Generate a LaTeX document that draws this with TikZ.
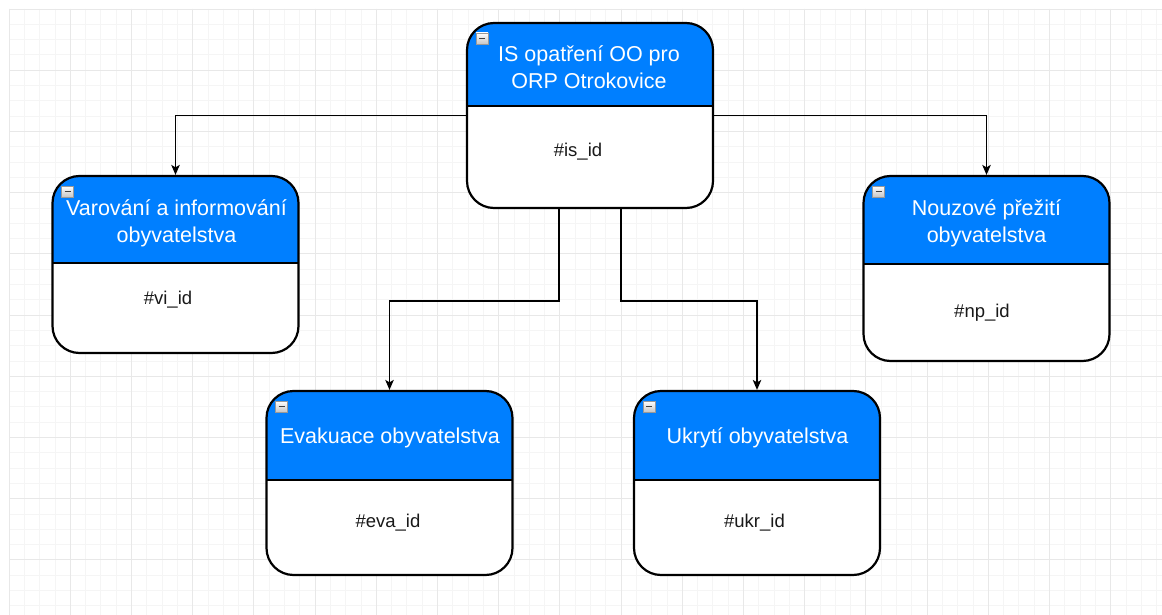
\documentclass[tikz,border=0pt]{standalone}
\usepackage{fontspec}
\setmainfont{Liberation Sans}
\usetikzlibrary{arrows.meta}
\usetikzlibrary{positioning}
\usetikzlibrary{calc}
\definecolor{headblue}{RGB}{0,127,255}
\definecolor{gridminor}{RGB}{245,245,245}
\definecolor{gridmajor}{RGB}{232,232,232}
\def\cellA{15.3}
\def\cellB{61.2}

\tikzset{
    entity/.style={draw, fill=white, line width=2.2pt, rounded corners=27pt,
        minimum width=246pt, inner sep=0pt,
        path picture={
            \fill[headblue, sharp corners] (path picture bounding box.north west)
            rectangle ([yshift=-#1pt]path picture bounding box.north east);
            \draw[line width=2.2pt, sharp corners] ([yshift=-#1pt]path picture bounding box.north west)
            -- ([yshift=-#1pt]path picture bounding box.north east);
            % collapse box
            \draw[line width=0.6pt, sharp corners, draw=gray!80, top color=white, bottom color=gray!45]
            ([shift={(9pt,-10pt)}]path picture bounding box.north west) rectangle ++(12pt,-11pt);
            \draw[line width=1.3pt, black!75, sharp corners]
            ([shift={(12pt,-15.5pt)}]path picture bounding box.north west) -- ++(6pt,0pt);
        }},
    headtext/.style={text=white, align=center, inner sep=0pt,
        font=\fontsize{21.5}{27}\selectfont},
    idtext/.style={text=black!90, inner sep=0pt, font=\fontsize{18.5}{22}\selectfont},
    link/.style={draw, line width=1.3pt, -{Stealth[length=10pt,width=8.5pt,inset=2.5pt]}},
}

\begin{document}
\begin{tikzpicture}[x=1pt, y=-1pt]
    \useasboundingbox[fill=white] (0,0) rectangle (1162,615);

    % background grid
    \foreach \i in {0,...,75}
        \draw[gridminor, line width=0.8pt] ({9+\cellA*\i},9) -- ({9+\cellA*\i},615);
    \foreach \j in {0,...,39}
        \draw[gridminor, line width=0.8pt] (9,{9+\cellA*\j}) -- (1162,{9+\cellA*\j});
    \foreach \i in {0,...,18}
        \draw[gridmajor, line width=0.9pt] ({9+\cellB*\i},9) -- ({9+\cellB*\i},615);
    \foreach \j in {0,...,9}
        \draw[gridmajor, line width=0.9pt] (9,{9+\cellB*\j}) -- (1162,{9+\cellB*\j});

    % entities
    \node[entity=83, minimum height=185pt] (is) at (590,115.5) {};
    \node[entity=87, minimum height=177pt] (vi) at (175.5,264.5) {};
    \node[entity=88, minimum height=185pt] (np) at (986.5,268.5) {};
    \node[entity=89, minimum height=184pt] (eva) at (389.5,483) {};
    \node[entity=89, minimum height=184pt] (ukr) at (757,483) {};

    \node[headtext] (is-title) at (589,67.5) {IS opatření OO pro\\ORP Otrokovice};
    \node[idtext] (is-id) at (578,152) {\#is\_id};

    \node[headtext] (vi-title) at (176.5,223.5) {Varování a informování\\obyvatelstva};
    \node[idtext] (vi-id) at (168,300) {\#vi\_id};

    \node[headtext] (np-title) at (986.5,223) {Nouzové přežití\\obyvatelstva};
    \node[idtext] (np-id) at (982,313) {\#np\_id};

    \node[headtext] (eva-title) at (390,438) {Evakuace obyvatelstva};
    \node[idtext] (eva-id) at (388,523) {\#eva\_id};

    \node[headtext] (ukr-title) at (757.5,438) {Ukrytí obyvatelstva};
    \node[idtext] (ukr-id) at (754.5,523) {\#ukr\_id};

    % connectors
    \draw[link] (is.west) -| (vi.north);
    \draw[link] (is.east) -| (np.north);
    \draw[link] ([xshift=-31pt]is.south) -- ++(0,92) -| (eva.north);
    \draw[link] ([xshift=31pt]is.south) -- ++(0,92) -| (ukr.north);
\end{tikzpicture}
\end{document}
